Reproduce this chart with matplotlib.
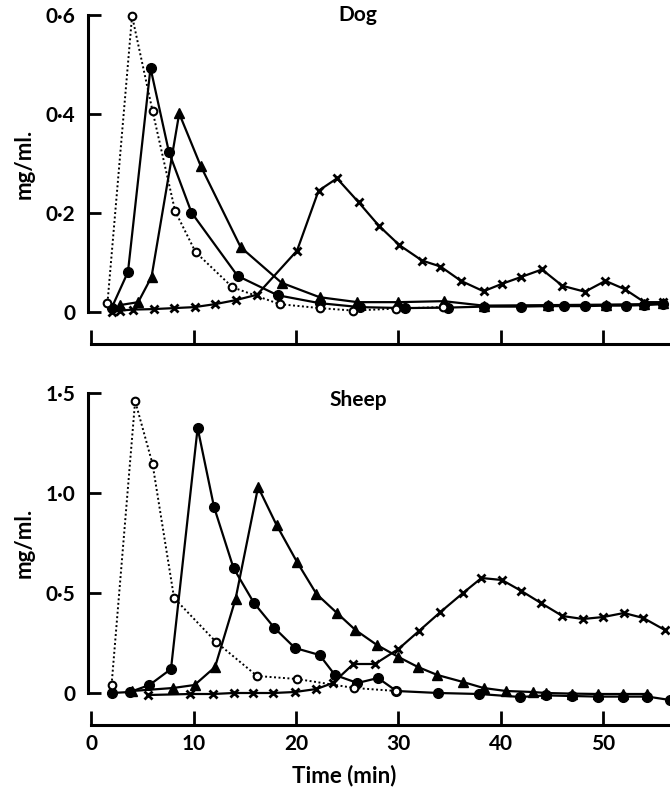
import matplotlib
matplotlib.use("Agg")
import matplotlib.pyplot as plt

plt.rcParams['font.family'] = ['Lato', 'DejaVu Sans']
plt.rcParams['font.weight'] = 'bold'

# Dog (mg/ml against time in min)
dog_open_t = [1.6, 4.0, 6.0, 8.2, 10.2, 13.8, 18.4, 22.3, 25.6, 29.8, 34.3]
dog_open_c = [0.018, 0.598, 0.406, 0.204, 0.121, 0.050, 0.016, 0.008, 0.003, 0.007, 0.010]

dog_circ_t = [2.0, 3.6, 5.8, 7.6, 9.8, 14.3, 18.2, 22.3, 26.2, 30.6, 34.8, 38.3,
              42.0, 44.6, 46.2, 48.2, 50.3, 52.2, 54.0, 55.8]
dog_circ_c = [0.008, 0.081, 0.493, 0.323, 0.201, 0.073, 0.034, 0.018, 0.010, 0.008,
              0.009, 0.011, 0.011, 0.012, 0.012, 0.012, 0.013, 0.013, 0.014, 0.016]

dog_tri_t = [2.8, 4.6, 5.9, 8.6, 10.7, 14.6, 18.6, 22.3, 26.0, 30.0, 34.4,
             38.3, 44.6, 50.3, 54.0, 55.8]
dog_tri_c = [0.014, 0.020, 0.071, 0.401, 0.295, 0.131, 0.059, 0.030, 0.020, 0.020, 0.022,
             0.013, 0.014, 0.015, 0.016, 0.018]

dog_cross_t = [2.0, 2.8, 4.1, 6.1, 8.1, 10.1, 12.1, 14.1, 16.2, 20.1, 22.2, 24.0,
               26.1, 28.1, 30.1, 32.3, 34.1, 36.1, 38.3, 40.1, 42.0, 44.0, 46.0,
               48.2, 50.2, 52.1, 54.0, 55.8]
dog_cross_c = [0.0, 0.003, 0.005, 0.006, 0.008, 0.010, 0.016, 0.024, 0.035, 0.124,
               0.245, 0.270, 0.222, 0.174, 0.135, 0.104, 0.092, 0.063, 0.042, 0.057,
               0.071, 0.086, 0.053, 0.041, 0.063, 0.046, 0.020, 0.020]

# Sheep
sheep_open_t = [2.0, 4.3, 6.0, 8.1, 12.2, 16.2, 20.1, 25.7, 29.8]
sheep_open_c = [0.04, 1.46, 1.145, 0.475, 0.255, 0.085, 0.07, 0.025, 0.01]

sheep_circ_t = [2.0, 3.8, 5.7, 7.8, 10.4, 12.0, 13.9, 15.9, 17.9, 19.9, 22.3, 23.8,
                26.0, 28.0, 29.8, 33.9, 37.9, 41.9, 44.4, 46.9, 49.5, 51.9, 54.3, 56.5]
sheep_circ_c = [0.0, 0.005, 0.04, 0.12, 1.325, 0.93, 0.625, 0.45, 0.325, 0.225, 0.19,
                0.09, 0.05, 0.075, 0.01, 0.0, -0.005, -0.02, -0.012, -0.015, -0.018,
                -0.018, -0.018, -0.035]

sheep_tri_t = [4.0, 8.0, 10.1, 12.1, 14.1, 16.3, 18.1, 20.1, 22.0, 24.0, 25.8, 27.9,
               30.0, 31.9, 33.8, 36.3, 38.3, 40.5, 43.1, 44.4, 46.9, 49.5, 51.9, 54.3]
sheep_tri_c = [0.01, 0.025, 0.04, 0.13, 0.47, 1.03, 0.84, 0.655, 0.495, 0.40, 0.315,
               0.24, 0.18, 0.13, 0.09, 0.055, 0.025, 0.01, 0.005, 0.0, -0.003, -0.005,
               -0.005, -0.005]

sheep_cross_t = [5.6, 9.7, 11.9, 13.9, 15.8, 17.8, 19.9, 22.0, 23.6, 25.6, 27.7, 30.0,
                 32.0, 34.1, 36.3, 38.1, 40.1, 42.0, 43.9, 46.0, 48.0, 50.0, 52.0,
                 53.9, 56.0]
sheep_cross_c = [-0.01, -0.005, -0.005, 0.0, 0.0, 0.0, 0.005, 0.02, 0.05, 0.145, 0.145,
                 0.22, 0.31, 0.405, 0.50, 0.575, 0.565, 0.51, 0.45, 0.385, 0.37, 0.38,
                 0.40, 0.375, 0.315]

x_ticks = [0, 10, 20, 30, 40, 50]


def draw_panel(ax, open_t, open_c, circ_t, circ_c, tri_t, tri_c, cross_t, cross_c):
    kw = dict(color='black', lw=1.6, clip_on=False)
    ax.plot(cross_t, cross_c, marker='x', ms=6, mew=2, **kw)
    ax.plot(tri_t, tri_c, marker='^', ms=7, **kw)
    ax.plot(circ_t, circ_c, marker='o', ms=7, **kw)
    ax.plot(open_t, open_c, marker='o', ms=5.5, mfc='white', mew=1.5,
            color='black', lw=1.4, ls=(0, (1, 1.3)), clip_on=False, zorder=3)

    ax.set_xlim(-0.3, 56.5)
    for side in ('top', 'right'):
        ax.spines[side].set_visible(False)
    ax.spines['left'].set_linewidth(2.2)
    ax.spines['bottom'].set_linewidth(2.2)
    ax.spines['bottom'].set_bounds(0, 56.5)
    ax.spines['bottom'].set_position(('outward', 19))
    ax.set_xticks(x_ticks)
    ax.tick_params(direction='in', length=9, width=2, labelsize=15)
    ax.tick_params(axis='y', pad=9)
    ax.tick_params(axis='x', length=10, pad=6)


fig = plt.figure(figsize=(6.7, 7.89), dpi=100)

# Dog panel
ax1 = fig.add_axes([88 / 670, 1 - 318 / 789, 582 / 670, 308 / 789])
draw_panel(ax1, dog_open_t, dog_open_c, dog_circ_t, dog_circ_c,
           dog_tri_t, dog_tri_c, dog_cross_t, dog_cross_c)
ax1.set_ylim(-0.012, 0.61)
ax1.spines['left'].set_bounds(0, 0.6)
ax1.set_yticks([0, 0.2, 0.4, 0.6])
ax1.set_yticklabels(['0', '0·2', '0·4', '0·6'])
ax1.tick_params(axis='x', labelbottom=False)
ax1.set_ylabel('mg/ml.', fontsize=16, fontweight='bold', labelpad=8)
ax1.text(24.1, 0.6, 'Dog', fontsize=15, fontweight='bold', ha='left', va='center')

# Sheep panel
ax2 = fig.add_axes([88 / 670, 1 - 699 / 789, 582 / 670, 312 / 789])
draw_panel(ax2, sheep_open_t, sheep_open_c, sheep_circ_t, sheep_circ_c,
           sheep_tri_t, sheep_tri_c, sheep_cross_t, sheep_cross_c)
ax2.set_ylim(-0.03, 1.53)
ax2.spines['left'].set_bounds(0, 1.5)
ax2.set_yticks([0, 0.5, 1.0, 1.5])
ax2.set_yticklabels(['0', '0·5', '1·0', '1·5'])
ax2.set_xticklabels([str(t) for t in x_ticks])
ax2.set_ylabel('mg/ml.', fontsize=16, fontweight='bold', labelpad=8)
ax2.set_xlabel('Time (min)', fontsize=16, fontweight='bold', labelpad=8)
ax2.xaxis.label.set_x((344 - 88) / 582)
ax2.text(23.3, 1.465, 'Sheep', fontsize=15, fontweight='bold', ha='left', va='center')

fig.savefig('out.png', dpi=100, facecolor='white')
plt.close(fig)
